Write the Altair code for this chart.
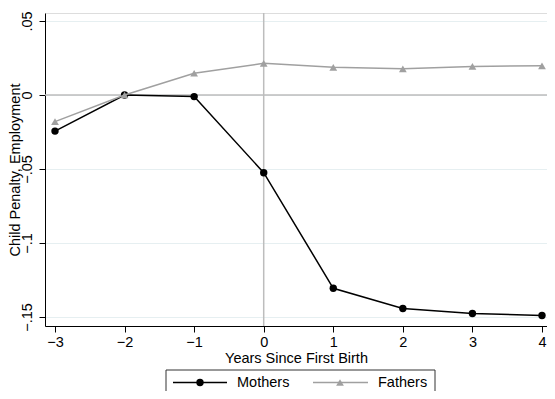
import altair as alt
import pandas as pd

years = [-3, -2, -1, 0, 1, 2, 3, 4]
mothers = [-0.0244, 0.0, -0.0011, -0.0525, -0.1306, -0.1443, -0.1477, -0.1490]
fathers = [-0.0180, 0.0, 0.0147, 0.0214, 0.0187, 0.0177, 0.0193, 0.0197]
series = ["Mothers", "Fathers"]
y_ticks = [-0.15, -0.1, -0.05, 0, 0.05]
x_ticks = [-3, -2, -1, 0, 1, 2, 3, 4]

rows = []
for yr, m, f in zip(years, mothers, fathers):
    rows.append({"year": yr, "value": m, "series": "Mothers"})
    rows.append({"year": yr, "value": f, "series": "Fathers"})
df = pd.DataFrame(rows)

FONT = "Liberation Sans"
FS = 14.5
W, H = 502, 313
BLACK = "#000000"
GRAY = "#a0a0a0"

xscale = alt.Scale(domain=[-3.1437, 4.0720], nice=False, zero=False)
yscale = alt.Scale(domain=[-0.1561, 0.0554], nice=False, zero=False)

x_enc = alt.X("year:Q", scale=xscale, title="Years Since First Birth",
              axis=alt.Axis(values=x_ticks, grid=False, tickSize=6, labelPadding=3,
                            titlePadding=3, domainColor="#000", tickColor="#000",
                            labelColor="#000", titleColor="#000", labelFont=FONT,
                            titleFont=FONT, labelFontSize=FS, titleFontSize=FS,
                            titleFontWeight="normal", format="d"))
y_enc = alt.Y("value:Q", scale=yscale, title="Child Penalty, Employment",
              axis=alt.Axis(values=y_ticks, grid=True, gridColor="#e6eff1", gridWidth=1,
                            tickSize=6, labelAngle=-90, labelAlign="center",
                            labelBaseline="bottom", labelPadding=5,
                            titleX=-25.5, titleY=H / 2, titleAngle=-90,
                            titleBaseline="alphabetic", titleAlign="center",
                            domainColor="#000", tickColor="#000", labelColor="#000",
                            titleColor="#000", labelFont=FONT, titleFont=FONT,
                            labelFontSize=FS, titleFontSize=FS, titleFontWeight="normal",
                            labelExpr="replace(format(datum.value, '~g'), '0.', '.')"))

base = alt.Chart(df)

ref_df = pd.DataFrame({"zero": [0]})
hline = alt.Chart(ref_df).mark_rule(color="#bdbdbd", strokeWidth=1.5).encode(
    y=alt.Y("zero:Q", scale=yscale))
vline = alt.Chart(ref_df).mark_rule(color="#bdbdbd", strokeWidth=1.5).encode(
    x=alt.X("zero:Q", scale=xscale))

m_data = base.transform_filter(alt.datum.series == "Mothers")
f_data = base.transform_filter(alt.datum.series == "Fathers")

mothers_line = m_data.mark_line(strokeWidth=1.5, color=BLACK).encode(
    x=x_enc, y=y_enc, order="year:Q")
mothers_pts = m_data.mark_point(filled=True, opacity=1, size=55, shape="circle",
                                color=BLACK).encode(x="year:Q", y="value:Q")
fathers_line = f_data.mark_line(strokeWidth=1.5, color=GRAY).encode(
    x="year:Q", y="value:Q", order="year:Q")
fathers_pts = f_data.mark_point(filled=True, opacity=1, size=60, shape="triangle-up",
                                color=GRAY).encode(x="year:Q", y="value:Q")

# legend (drawn below plot, boxed)
leg_df = pd.DataFrame({"label": series})
one = leg_df.head(1)
two = leg_df.tail(1)
LY = 369.5
box = alt.Chart(one).mark_rect(fill="white", stroke="#333333", strokeWidth=1).encode(
    x=alt.value(121), x2=alt.value(390), y=alt.value(357), y2=alt.value(400))
leg_m_line = alt.Chart(one).mark_rule(color=BLACK, strokeWidth=1.5).encode(
    x=alt.value(128), x2=alt.value(182), y=alt.value(LY))
leg_m_pt = alt.Chart(one).mark_point(filled=True, opacity=1, size=55, shape="circle",
                                     color=BLACK).encode(x=alt.value(155), y=alt.value(LY))
leg_m_txt = alt.Chart(one).mark_text(align="left", baseline="middle", font=FONT,
                                     fontSize=FS, color="#000").encode(
    x=alt.value(192), y=alt.value(LY + 0.5), text="label:N")
leg_f_line = alt.Chart(two).mark_rule(color=GRAY, strokeWidth=1.5).encode(
    x=alt.value(268), x2=alt.value(323), y=alt.value(LY))
leg_f_pt = alt.Chart(two).mark_point(filled=True, opacity=1, size=60, shape="triangle-up",
                                     color=GRAY).encode(x=alt.value(295), y=alt.value(LY))
leg_f_txt = alt.Chart(two).mark_text(align="left", baseline="middle", font=FONT,
                                     fontSize=FS, color="#000").encode(
    x=alt.value(333), y=alt.value(LY + 0.5), text="label:N")

chart = alt.layer(
    vline, hline,
    mothers_line, mothers_pts, fathers_line, fathers_pts,
    box, leg_m_line, leg_m_pt, leg_m_txt, leg_f_line, leg_f_pt, leg_f_txt,
).properties(
    width=W, height=H,
    autosize=alt.AutoSizeParams(type="none"),
    padding={"left": 37, "top": 5, "right": 0, "bottom": 65},
).configure_view(stroke=None).configure(background="white")

chart.save("out.html", embed_options={"renderer": "svg", "actions": False})
